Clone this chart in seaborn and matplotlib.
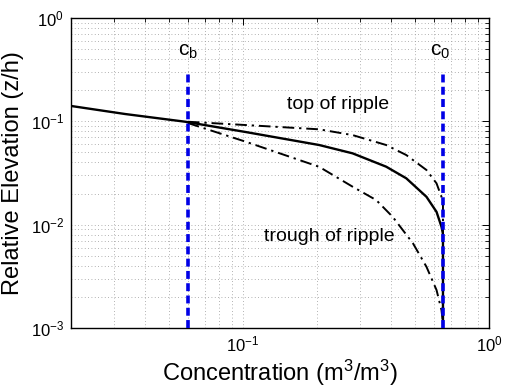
import seaborn as sns
import matplotlib
matplotlib.use('Agg')
import matplotlib.pyplot as plt

# concentration profiles
mean_c = [0.0197, 0.0332, 0.0583, 0.1026, 0.204, 0.279, 0.382, 0.461, 0.557, 0.612, 0.641, 0.649, 0.65, 0.65]
mean_z = [0.1416, 0.1177, 0.0991, 0.0788, 0.0590, 0.0490, 0.0364, 0.0281, 0.0186, 0.0133, 0.00955, 0.0083, 0.0075, 0.001]

top_c = [0.0597, 0.1057, 0.204, 0.279, 0.382, 0.461, 0.557, 0.612, 0.641, 0.65, 0.65]
top_z = [0.0991, 0.0917, 0.0837, 0.0736, 0.0590, 0.0472, 0.0338, 0.0251, 0.0186, 0.016, 0.001]

trough_c = [0.0597, 0.1026, 0.204, 0.279, 0.348, 0.406, 0.491, 0.557, 0.612, 0.641, 0.650, 0.65]
trough_z = [0.0963, 0.0635, 0.0363, 0.0233, 0.0173, 0.0119, 0.00659, 0.00391, 0.00233, 0.00149, 0.00111, 0.001]

c_b = 0.06
c_0 = 0.65
ref_z = [0.001, 0.3]

sns.set_style('white')
plt.rcParams['font.family'] = ['Liberation Sans', 'DejaVu Sans']
plt.rcParams['mathtext.fontset'] = 'custom'
plt.rcParams['mathtext.rm'] = 'Liberation Sans'
plt.rcParams['mathtext.it'] = 'Liberation Sans:italic'
plt.rcParams['text.color'] = 'black'
plt.rcParams['axes.labelcolor'] = 'black'

fig = plt.figure(figsize=(5.06, 3.92), dpi=100)
ax = fig.add_axes([71 / 506, 1 - 328 / 392, 418 / 506, 310 / 392])
ax.set_xscale('log')
ax.set_yscale('log')

blue = (0, 0, 0.9)
dashdot = (0, (6, 2.5, 1.2, 2.5))
for c in (c_b, c_0):
    sns.lineplot(x=[c, c], y=ref_z, sort=False, estimator=None, color=blue, linewidth=2.6,
                 linestyle=(0, (2.2, 1.2)), ax=ax, zorder=3)
sns.lineplot(x=mean_c, y=mean_z, sort=False, estimator=None, color='k', linewidth=1.7, ax=ax, zorder=2)
sns.lineplot(x=top_c, y=top_z, sort=False, estimator=None, color='k', linewidth=1.4,
             linestyle=dashdot, ax=ax, zorder=2)
sns.lineplot(x=trough_c, y=trough_z, sort=False, estimator=None, color='k', linewidth=1.4,
             linestyle=dashdot, ax=ax, zorder=2)

ax.set_xlim(0.02, 1)
ax.set_ylim(0.001, 1)

ax.text(c_b, 0.47, r'c$_\mathrm{b}$', ha='center', va='center', fontsize=15)
ax.text(c_0 - 0.02, 0.47, r'c$_\mathrm{0}$', ha='center', va='center', fontsize=15)
ax.text(0.244, 0.144, 'top of ripple', ha='center', va='center', fontsize=14)
ax.text(0.224, 0.0076, 'trough of ripple', ha='center', va='center', fontsize=14)

ax.set_xlabel('Concentration (m$^3$/m$^3$)', fontsize=17, labelpad=2)
ax.set_ylabel('Relative Elevation (z/h)', fontsize=17, labelpad=5)

ax.grid(True, which='both', color='0.6', linestyle=(0, (1, 3)), linewidth=0.6)
ax.tick_params(which='both', direction='in', top=True, right=True, labelsize=12, colors='k')
ax.tick_params(which='major', length=5, width=0.7, pad=5)
ax.tick_params(which='minor', length=3, width=0.6)
for s in ax.spines.values():
    s.set_linewidth(1.0)
    s.set_color('k')

plt.savefig('out.png', dpi=100)
